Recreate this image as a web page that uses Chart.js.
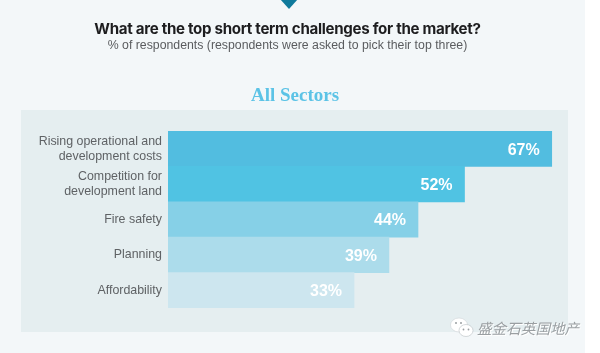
<!DOCTYPE html>
<html>
<head>
<meta charset="utf-8">
<style>
    html, body { margin: 0; padding: 0; background: #fff; }
    #page { position: relative; width: 585px; height: 353px; background: #f3f7f9; overflow: hidden; }
    #chart { position: absolute; left: 0; top: 0; }
    .txt { position: absolute; white-space: nowrap; }
    #marker { position: absolute; left: 280px; top: -1px; width: 18px; height: 10px; background: #0f7a9c; clip-path: polygon(0 0, 100% 0, 50% 100%); }
    #title { left: 0; width: 575px; top: 19px; text-align: center; font: bold 15.1px "Inter", sans-serif; letter-spacing: -0.3px; color: #1d1d1f; }
    #subtitle { left: 0; width: 575px; top: 38px; text-align: center; font: 12.3px "Liberation Sans", sans-serif; color: #5a5c5f; }
    #sector { left: 0; width: 590px; top: 84px; text-align: center; font: bold 19px "Liberation Serif", serif; color: #5cc3e6; }
    #mark { position: absolute; left: 450px; top: 317px; }
    #markText { left: 477px; top: 317px; font: italic 14.6px "Noto Sans CJK SC", sans-serif; color: #9a9fa2; text-shadow: 1px 1px 0 #fff; }
</style>
</head>
<body>
<div id="page">
    <canvas id="chart" width="600" height="353"></canvas>
    <div id="marker"></div>
    <div class="txt" id="title">What are the top short term challenges for the market?</div>
    <div class="txt" id="subtitle">% of respondents (respondents were asked to pick their top three)</div>
    <div class="txt" id="sector">All Sectors</div>
    <svg id="mark" width="24" height="22" viewBox="0 0 24 22">
        <ellipse cx="9" cy="8" rx="8.5" ry="7" fill="#fff" stroke="#cfd4d6" stroke-width="0.6"/>
        <ellipse cx="16" cy="13.5" rx="7" ry="6" fill="#fff" stroke="#b9bfc2" stroke-width="0.6"/>
        <circle cx="6" cy="6" r="1" fill="#9a9fa2"/>
        <circle cx="11" cy="6" r="1" fill="#9a9fa2"/>
        <circle cx="13.5" cy="12.5" r="0.9" fill="#9a9fa2"/>
        <circle cx="18.5" cy="12.5" r="0.9" fill="#9a9fa2"/>
    </svg>
    <div class="txt" id="markText">盛金石英国地产</div>
</div>

<script src="https://cdn.jsdelivr.net/npm/chart.js@4"></script>
<script>
const categories = [
    ["Rising operational and", "development costs"],
    ["Competition for", "development land"],
    "Fire safety",
    "Planning",
    "Affordability"
];
const values = [67, 52, 44, 39, 33];
const barColors = ["#52bde0", "#50c3e3", "#86d0e7", "#acdceb", "#cde6ef"];

// panel behind the bars
const panelPlugin = {
    id: "panel",
    beforeDraw(chart) {
        const ctx = chart.ctx;
        ctx.save();
        ctx.fillStyle = "#e5eef0";
        ctx.fillRect(21, 110, 547, 222);
        ctx.restore();
    }
};

// white % labels at the end of each bar
const valueLabels = {
    id: "valueLabels",
    afterDatasetsDraw(chart) {
        const ctx = chart.ctx;
        ctx.save();
        ctx.font = "bold 16px 'Liberation Sans', sans-serif";
        ctx.fillStyle = "#ffffff";
        ctx.textAlign = "right";
        ctx.textBaseline = "middle";
        chart.getDatasetMeta(0).data.forEach(function (bar, i) {
            ctx.fillText(values[i] + "%", bar.x - 12, bar.y + 1.5);
        });
        ctx.restore();
    }
};

new Chart(document.getElementById("chart").getContext("2d"), {
    type: "bar",
    data: {
        labels: categories,
        datasets: [{
            data: values,
            backgroundColor: barColors,
            categoryPercentage: 1,
            barPercentage: 1
        }]
    },
    options: {
        indexAxis: "y",
        responsive: false,
        animation: false,
        layout: { padding: { top: 131, bottom: 45, right: 32, left: 0 } },
        plugins: { legend: { display: false }, tooltip: { enabled: false } },
        scales: {
            x: { display: false, min: 1, max: 69.8 },
            y: {
                afterFit(scale) { scale.width = 168; },
                border: { display: false },
                grid: { display: false, drawTicks: false, tickLength: 0 },
                ticks: {
                    color: "#5f6265",
                    padding: 6,
                    font: { family: "'Liberation Sans', sans-serif", size: 12.4, lineHeight: 1.2 }
                }
            }
        }
    },
    plugins: [panelPlugin, valueLabels]
});
</script>
</body>
</html>
